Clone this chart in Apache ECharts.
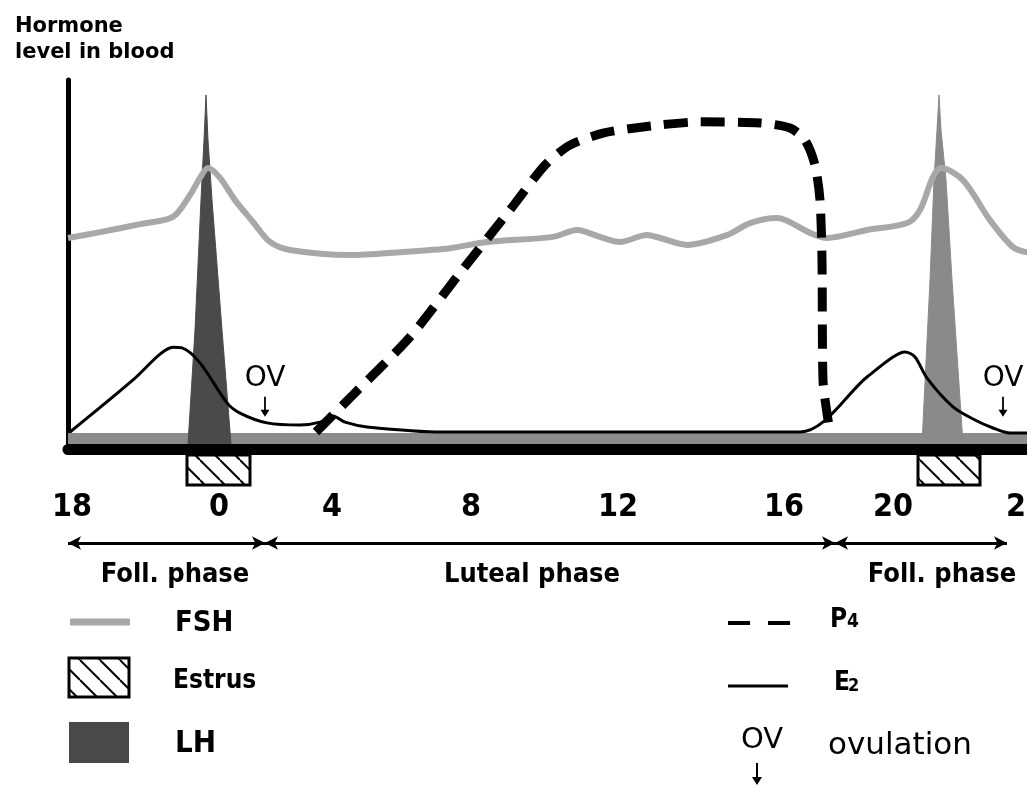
<!DOCTYPE html>
<html>
<head>
<meta charset="utf-8">
<title>Hormone levels</title>
<script src="https://cdn.jsdelivr.net/npm/echarts@6/dist/echarts.min.js"></script>
<style>
  html, body { margin: 0; padding: 0; background: #fff; }
  #main { width: 1027px; height: 788px; }
</style>
</head>
<body>
<div id="main"></div>
<script>
// x runs 0..~96 across the drawing (the figure is a sketch, days are not evenly spaced)
const tickPos = [0.4, 15.1, 26.4, 40.3, 55.0, 71.6, 82.5, 95.8]
const tickLabels = ['18', '0', '4', '8', '12', '16', '20', '22']

// hormone curves, y = relative level 0..100
const fsh = [
  [0, 56.6], [3.2, 58.2], [7.2, 60.4], [10.5, 62.4], [12.2, 68.4], [13.2, 73.1], [14.0, 75.8],
  [15.2, 73.1], [16.7, 67.0], [18.5, 61.0], [20.2, 55.5], [22.2, 53.3], [28.2, 51.9], [33.2, 52.7],
  [38.2, 53.8], [41.9, 55.5], [48.5, 56.9], [50.9, 58.8], [53.2, 56.9], [55.2, 55.5], [57.9, 57.4],
  [59.2, 56.6], [61.9, 54.7], [65.9, 57.4], [68.2, 60.7], [70.9, 62.1], [74.2, 58.0], [75.9, 56.6],
  [79.9, 58.8], [83.9, 60.7], [85.2, 64.3], [86.5, 73.4], [87.3, 75.8], [89.5, 72.5], [92.2, 61.5],
  [94.5, 54.1], [96.2, 52.5]
]
const p4 = [
  [24.8, 3.3], [28.5, 13.5], [34.2, 29.4], [39.2, 47.0], [44.2, 64.3], [47.7, 76.6], [50.2, 82.1],
  [53.5, 85.4], [57.5, 87.1], [63.2, 88.5], [69.2, 88.2], [72.2, 86.8], [73.7, 83.5], [74.7, 76.6],
  [75.2, 67.0], [75.4, 50.5], [75.5, 17.6], [76.2, 3.3]
]
const e2 = [
  [0.2, 3.3], [6.5, 17.6], [9.2, 24.7], [10.5, 26.6], [11.4, 26.4], [13.2, 22.3], [15.9, 11.3],
  [17.2, 8.5], [19.9, 5.8], [23.2, 5.2], [25.2, 6.0], [26.5, 7.7], [27.7, 6.0], [29.9, 4.7],
  [37.5, 3.3], [73.2, 3.3], [79.9, 18.4], [82.5, 23.9], [83.7, 25.3], [84.7, 23.9], [85.9, 18.1],
  [88.5, 10.2], [90.7, 6.6], [92.5, 4.4], [94.2, 3.0], [96.2, 3.0]
]
const lhFirst = [
  [12.0, 0], [12.7, 31.3], [13.3, 67.0], [13.6, 83.5], [13.8, 95.9], [14.0, 83.5], [14.4, 67.0],
  [15.4, 31.3], [16.3, 0]
]
const lhSecond = [
  [85.4, 0], [86.2, 45.1], [86.6, 72.5], [86.9, 86.3], [87.1, 95.9], [87.3, 86.3], [87.8, 72.5],
  [88.4, 45.1], [89.5, 0]
]
const estrus = [[11.9, 18.2], [85.0, 91.2]]
const ovulation = [[19.7, 10.2], [93.5, 10.2]]
const phaseBounds = [0, 19.7, 76.7, 93.9]
const phaseNames = ['Foll. phase', 'Luteal phase', 'Foll. phase']
const phaseMid = [10.7, 46.4, 87.4]

const COND = '"DejaVu Sans Condensed", "DejaVu Sans", sans-serif'
const SANS = '"DejaVu Sans", sans-serif'
const X_MAX = 95.9

// diagonal hatch for estrus boxes
function makeHatch() {
  const s = 20
  const c = document.createElement('canvas')
  c.width = s
  c.height = s
  const ctx = c.getContext('2d')
  ctx.fillStyle = '#fff'
  ctx.fillRect(0, 0, s, s)
  ctx.strokeStyle = '#000'
  ctx.lineWidth = 2
  ctx.beginPath()
  for (let k = -1; k <= 1; k++) {
    ctx.moveTo(0, k * s)
    ctx.lineTo(s, s + k * s)
  }
  ctx.stroke()
  return c
}
const hatchFill = { image: makeHatch(), repeat: 'repeat' }

const arrowPath = 'path://M4,0 L6,0 L6,13 L10,13 L5,20 L0,13 L4,13 Z'

let myChart = echarts.init(document.getElementById('main'))

let option = {
  animation: false,
  backgroundColor: '#fff',
  title: {
    text: 'Hormone\nlevel in blood',
    left: 10,
    top: 9,
    textStyle: { fontFamily: SANS, fontWeight: 'bold', fontSize: 21, lineHeight: 26, color: '#000' }
  },
  grid: [
    { left: 68, width: 959, top: 80, height: 364, containLabel: false, outerBoundsMode: 'none' },
    { left: 68, width: 959, top: 455, height: 30, containLabel: false, outerBoundsMode: 'none' },
    { left: 68, width: 959, top: 543, height: 32, containLabel: false, outerBoundsMode: 'none' }
  ],
  xAxis: [
    {
      gridIndex: 0, type: 'value', min: 0, max: X_MAX, offset: 5,
      axisLine: { onZero: false, lineStyle: { color: '#000', width: 11 } },
      axisTick: { show: false },
      splitLine: { show: false },
      axisLabel: {
        customValues: tickPos,
        margin: 43,
        color: '#000',
        fontFamily: COND,
        fontWeight: 'bold',
        fontSize: 32,
        formatter: v => tickLabels[tickPos.indexOf(v)]
      }
    },
    { gridIndex: 1, type: 'value', min: 0, max: X_MAX, show: false },
    { gridIndex: 2, type: 'value', min: 0, max: X_MAX, show: false }
  ],
  yAxis: [
    {
      gridIndex: 0, type: 'value', min: 0, max: 100,
      axisLine: { show: true, lineStyle: { color: '#000', width: 5 } },
      axisTick: { show: false },
      axisLabel: { show: false },
      splitLine: { show: false }
    },
    { gridIndex: 1, type: 'value', min: 0, max: 1, show: false },
    { gridIndex: 2, type: 'value', min: 0, max: 1, show: false }
  ],
  series: [
    {
      name: 'LH',
      type: 'line',
      data: lhFirst,
      symbol: 'none',
      lineStyle: { width: 1, color: '#4a4a4a' },
      areaStyle: { color: '#4a4a4a', opacity: 1 },
      markArea: {
        silent: true,
        itemStyle: { color: '#8c8c8c' },
        data: [[{ yAxis: 0 }, { yAxis: 3 }]]
      }
    },
    {
      name: 'LH',
      type: 'line',
      data: lhSecond,
      symbol: 'none',
      lineStyle: { width: 1, color: '#8a8a8a' },
      areaStyle: { color: '#8a8a8a', opacity: 1 }
    },
    {
      name: 'FSH',
      type: 'line',
      data: fsh,
      smooth: 0.3,
      symbol: 'none',
      lineStyle: { width: 6, color: '#a8a8a8' }
    },
    {
      name: 'P4',
      type: 'line',
      data: p4,
      smooth: 0.25,
      symbol: 'none',
      lineStyle: { width: 9, color: '#000', type: [24, 13], cap: 'butt' }
    },
    {
      name: 'E2',
      type: 'line',
      data: e2,
      smooth: 0.3,
      symbol: 'none',
      lineStyle: { width: 3, color: '#000' }
    },
    {
      name: 'ovulation',
      type: 'scatter',
      data: ovulation,
      symbol: arrowPath,
      symbolSize: [9, 20],
      itemStyle: { color: '#000', opacity: 1 },
      label: {
        show: true,
        position: 'top',
        distance: 4,
        formatter: 'OV',
        color: '#000',
        opacity: 1,
        fontFamily: SANS,
        fontSize: 28
      }
    },
    {
      name: 'Estrus',
      type: 'custom',
      xAxisIndex: 1,
      yAxisIndex: 1,
      data: estrus,
      renderItem: function (params, api) {
        let a = api.coord([api.value(0), 1])
        let b = api.coord([api.value(1), 0])
        return {
          type: 'rect',
          shape: { x: a[0], y: a[1], width: b[0] - a[0], height: b[1] - a[1] },
          style: { fill: hatchFill, stroke: '#000', lineWidth: 3 }
        }
      }
    },
    {
      name: 'phase',
      type: 'scatter',
      xAxisIndex: 2,
      yAxisIndex: 2,
      clip: false,
      data: phaseMid.map(x => [x, 0]),
      symbolSize: 0,
      itemStyle: { opacity: 1 },
      label: {
        show: true,
        position: 'inside',
        color: '#000',
        opacity: 1,
        fontFamily: COND,
        fontWeight: 'bold',
        fontSize: 27,
        formatter: p => phaseNames[p.dataIndex]
      },
      markLine: {
        silent: true,
        symbol: ['arrow', 'arrow'],
        symbolSize: [10, 13],
        label: { show: false },
        lineStyle: { color: '#000', width: 3, type: 'solid', opacity: 1 },
        data: phaseBounds.slice(0, -1).map((b, i) => [{ coord: [b, 1] }, { coord: [phaseBounds[i + 1], 1] }])
      }
    }
  ],
  // key at the bottom
  graphic: [
    { type: 'line', shape: { x1: 70, y1: 622, x2: 130, y2: 622 }, style: { stroke: '#a8a8a8', lineWidth: 7 } },
    { type: 'text', x: 175, y: 623, style: { text: 'FSH', fontFamily: COND, fontWeight: 'bold', fontSize: 29, fill: '#000', verticalAlign: 'middle' } },
    { type: 'rect', shape: { x: 69, y: 658, width: 60, height: 39 }, style: { fill: hatchFill, stroke: '#000', lineWidth: 3 } },
    { type: 'text', x: 173, y: 681, style: { text: 'Estrus', fontFamily: COND, fontWeight: 'bold', fontSize: 26, fill: '#000', verticalAlign: 'middle' } },
    { type: 'rect', shape: { x: 69, y: 722, width: 60, height: 41 }, style: { fill: '#4a4a4a' } },
    { type: 'text', x: 175, y: 744, style: { text: 'LH', fontFamily: COND, fontWeight: 'bold', fontSize: 31, fill: '#000', verticalAlign: 'middle' } },
    { type: 'line', shape: { x1: 728, y1: 623, x2: 790, y2: 623 }, style: { stroke: '#000', lineWidth: 4, lineDash: [22, 18] } },
    { type: 'text', x: 830, y: 633, style: { text: 'P', fontFamily: COND, fontWeight: 'bold', fontSize: 26, fill: '#000', verticalAlign: 'bottom' } },
    { type: 'text', x: 847, y: 632, style: { text: '4', fontFamily: COND, fontWeight: 'bold', fontSize: 19, fill: '#000', verticalAlign: 'bottom' } },
    { type: 'line', shape: { x1: 728, y1: 686, x2: 788, y2: 686 }, style: { stroke: '#000', lineWidth: 3 } },
    { type: 'text', x: 834, y: 696, style: { text: 'E', fontFamily: COND, fontWeight: 'bold', fontSize: 26, fill: '#000', verticalAlign: 'bottom' } },
    { type: 'text', x: 848, y: 695, style: { text: '2', fontFamily: COND, fontWeight: 'bold', fontSize: 18, fill: '#000', verticalAlign: 'bottom' } },
    { type: 'text', x: 762, y: 740, style: { text: 'OV', fontFamily: SANS, fontSize: 29, fill: '#000', align: 'center', verticalAlign: 'middle' } },
    { type: 'polygon', shape: { points: [[756, 763], [758, 763], [758, 777], [762, 777], [757, 785], [752, 777], [756, 777]] }, style: { fill: '#000' } },
    { type: 'text', x: 828, y: 746, style: { text: 'ovulation', fontFamily: SANS, fontSize: 31, fill: '#000', verticalAlign: 'middle' } }
  ]
}

myChart.setOption(option)
</script>
</body>
</html>
